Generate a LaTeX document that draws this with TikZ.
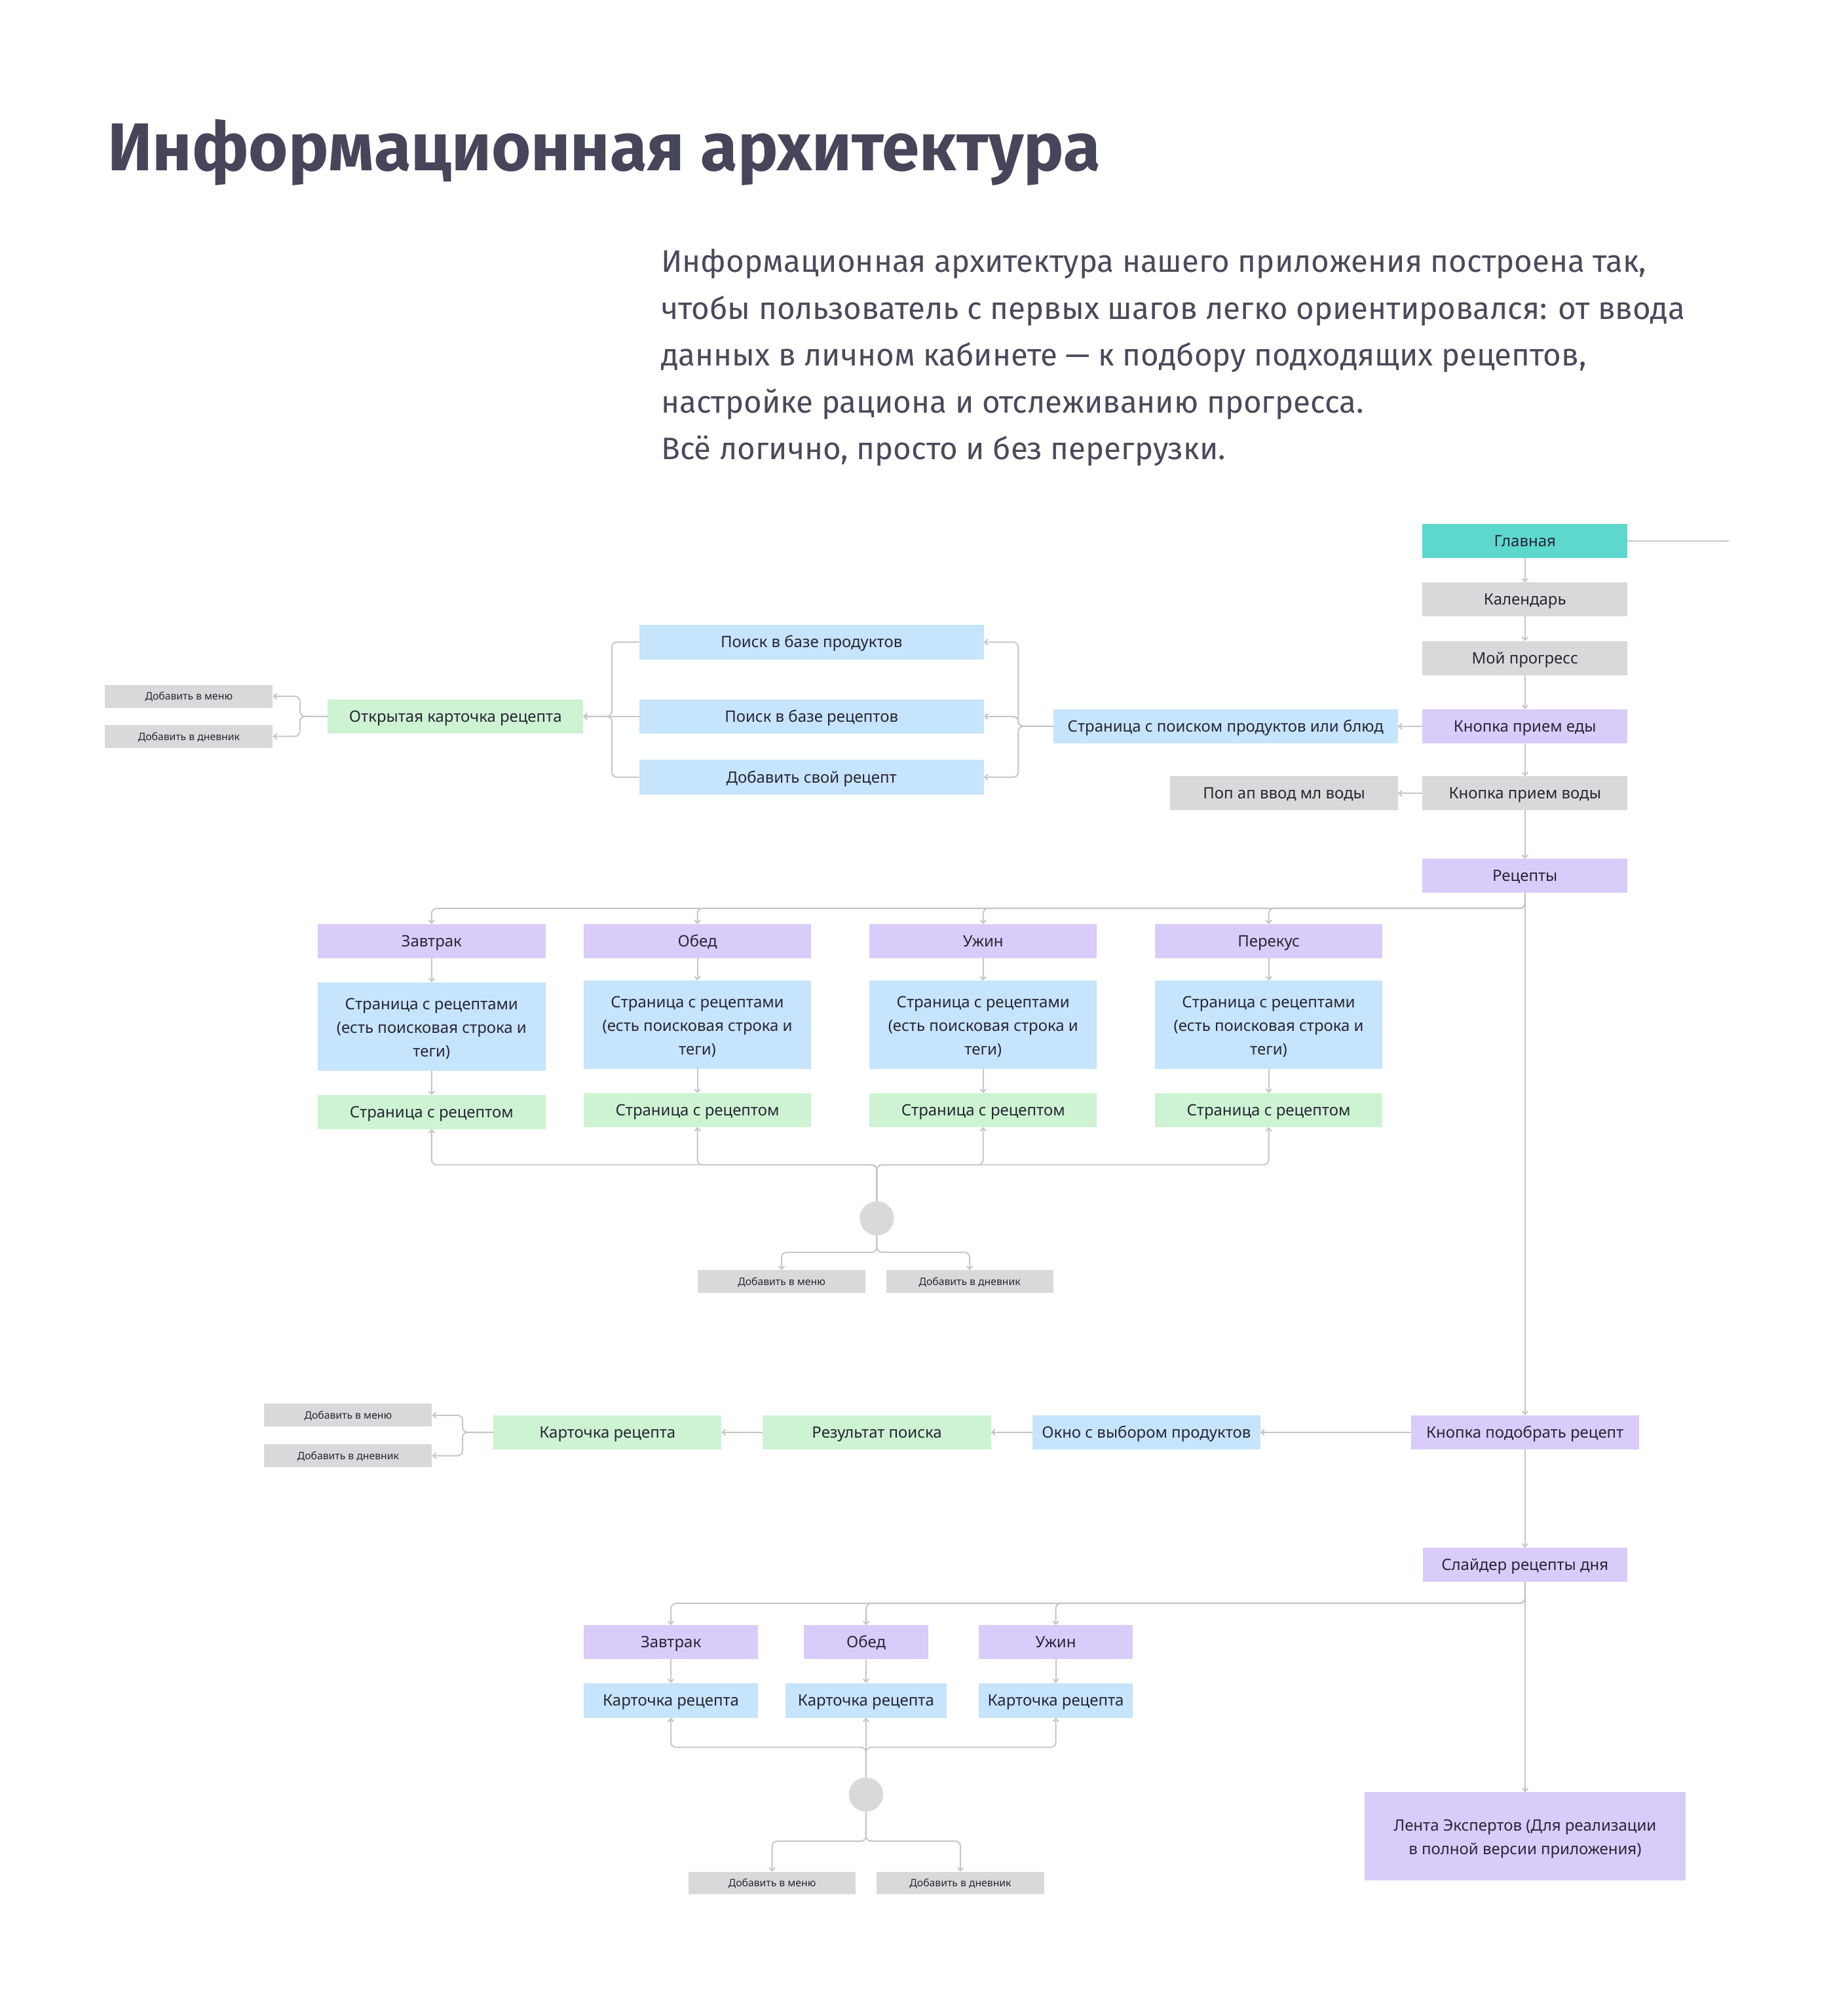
\documentclass[tikz,border=0pt]{standalone}
\usepackage{fontspec}
\setmainfont{Noto Sans}
\newfontfamily\titlefont{Fira Sans}
\usetikzlibrary{arrows.meta}
\definecolor{tealbox}{HTML}{5ED8CC}
\definecolor{graybox}{HTML}{D9D9D9}
\definecolor{purplebox}{HTML}{D9CCFB}
\definecolor{bluebox}{HTML}{C6E4FB}
\definecolor{greenbox}{HTML}{CDF3D3}
\definecolor{linec}{HTML}{C6C6C6}
\definecolor{txt}{HTML}{282634}
\definecolor{titc}{HTML}{47455A}
\definecolor{parc}{HTML}{4B495B}
\AtBeginDocument{%
  \setbox0=\hbox{\normalfont\fontsize{10}{12}\selectfont Страница с поиском продуктов или блюд}%
  \pgfmathsetmacro\tmpa{10*245.6/\the\wd0}\xdef\lsz{\tmpa}%
  \pgfmathsetmacro\tmpa{0.714*\lsz}\xdef\lcap{\tmpa}%
  \setbox0=\hbox{\normalfont\fontsize{10}{12}\selectfont Добавить в дневник}%
  \pgfmathsetmacro\tmpa{10*79/\the\wd0}\xdef\ssz{\tmpa}%
  \pgfmathsetmacro\tmpa{0.714*\ssz}\xdef\scap{\tmpa}%
  \setbox0=\hbox{\titlefont\bfseries\fontsize{10}{12}\selectfont Информационная архитектура}%
  \pgfmathsetmacro\tmpa{10*772/\the\wd0}\xdef\tsz{\tmpa}%
  \setbox0=\hbox{\titlefont\fontsize{10}{12}\selectfont чтобы пользователь с первых шагов легко ориентировался: от ввода}%
  \pgfmathsetmacro\tmpa{10*796/\the\wd0}\xdef\psz{\tmpa}%
}
\def\lblf{\fontsize{\lsz}{18.4}\selectfont}
\def\smf{\fontsize{\ssz}{10}\selectfont}
\def\titf{\titlefont\bfseries\fontsize{\tsz}{\tsz}\selectfont}
\def\parf{\titlefont\fontsize{\psz}{36.4}\selectfont}
\def\fst{\rule{0pt}{12.4pt}}
\tikzset{
  box/.style={rectangle, inner sep=0pt, outer sep=0pt, text=txt, font=\lblf,
    minimum height=26.5, text height=\lcap pt, text depth=0pt},
  mbox/.style={rectangle, inner sep=0pt, outer sep=0pt, text=txt, font=\lblf, align=center},
  sbox/.style={rectangle, inner sep=0pt, outer sep=0pt, fill=graybox, text=txt, font=\smf,
    minimum width=130.5, minimum height=17.8, text height=\scap pt, text depth=0pt},
  arr/.style={draw=linec, line width=1pt, -{Straight Barb[length=2.4pt,width=4.4pt]}},
  ln/.style={draw=linec, line width=1pt},
  bus/.style={rounded corners=4pt},
  dot/.style={circle, fill=graybox, inner sep=0pt, minimum size=26.6},
  partext/.style={anchor=base west, inner sep=0pt, font=\parf, text=parc},
}
\begin{document}
\begin{tikzpicture}[x=1pt,y=-1pt]
\useasboundingbox (0,0) rectangle (1426.4,1568);
\fill[white] (0,0) rectangle (1426.4,1568);

% title and text
\node[anchor=base west, inner sep=0pt, font=\titf, text=titc] (title) at (83.5,132.6) {Информационная архитектура};
\node[partext] (p1) at (514,211.8) {Информационная архитектура нашего приложения построена так,};
\node[partext] (p2) at (514,248.2) {чтобы пользователь с первых шагов легко ориентировался: от ввода};
\node[partext] (p3) at (514,284.6) {данных в личном кабинете — к подбору подходящих рецептов,};
\node[partext] (p4) at (514,321.0) {настройке рациона и отслеживанию прогресса.};
\node[partext] (p5) at (514,357.4) {Всё логично, просто и без перегрузки.};

% right column
\node[box, fill=tealbox, minimum width=159.5] (glav) at (1185.8,420.8) {Главная};
\node[box, fill=graybox, minimum width=159.5] (kal) at (1185.8,466.3) {Календарь};
\node[box, fill=graybox, minimum width=159.5] (prog) at (1185.8,511.8) {Мой прогресс};
\node[box, fill=purplebox, minimum width=159.5] (eda) at (1185.8,564.9) {Кнопка прием еды};
\node[box, fill=graybox, minimum width=159.5] (voda) at (1185.8,617.0) {Кнопка прием воды};
\node[box, fill=purplebox, minimum width=159.5] (rec) at (1185.8,681.3) {Рецепты};
\node[box, fill=purplebox, minimum width=177.5] (podob) at (1185.8,1114) {Кнопка подобрать рецепт};
\node[box, fill=purplebox, minimum width=159] (slider) at (1185.8,1217) {Слайдер рецепты дня};
\node[mbox, fill=purplebox, minimum width=249.8, minimum height=68.7] (lenta) at (1185.9,1428.3) {\fst Лента Экспертов (Для реализации\\в полной версии приложения)};
\coordinate (glavend) at (1344.5,420.8);

\node[box, fill=bluebox, minimum width=268] (ps) at (953,564.9) {Страница с поиском продуктов или блюд};
\node[box, fill=graybox, minimum width=177] (popap) at (998.5,617.0) {Поп ап ввод мл воды};

% search group
\node[box, fill=bluebox, minimum width=268, minimum height=26.8] (pprod) at (631,499.4) {Поиск в базе продуктов};
\node[box, fill=bluebox, minimum width=268] (prec) at (631,557.2) {Поиск в базе рецептов};
\node[box, fill=bluebox, minimum width=268, minimum height=27] (padd) at (631,604.5) {Добавить свой рецепт};
\node[box, fill=greenbox, minimum width=198.5] (otkr) at (354.2,557.2) {Открытая карточка рецепта};
\node[sbox] (dm1) at (146.9,541.6) {Добавить в меню};
\node[sbox] (dd1) at (146.9,572.8) {Добавить в дневник};
\coordinate (rbus) at (791.8,564.9);

% meal columns
\node[box, fill=purplebox, minimum width=177.3] (h1) at (335.6,732) {Завтрак};
\node[box, fill=purplebox, minimum width=176.6] (h2) at (542.3,732) {Обед};
\node[box, fill=purplebox, minimum width=177] (h3) at (764.5,732) {Ужин};
\node[box, fill=purplebox, minimum width=177] (h4) at (986.5,732) {Перекус};
\node[mbox, fill=bluebox, minimum width=177.3, minimum height=68.7] (s1) at (335.6,798.3) {\fst Страница с рецептами\\(есть поисковая строка и\\теги)};
\node[mbox, fill=bluebox, minimum width=176.6, minimum height=68.6] (s2) at (542.3,796.9) {\fst Страница с рецептами\\(есть поисковая строка и\\теги)};
\node[mbox, fill=bluebox, minimum width=177, minimum height=68.6] (s3) at (764.5,796.9) {\fst Страница с рецептами\\(есть поисковая строка и\\теги)};
\node[mbox, fill=bluebox, minimum width=177, minimum height=68.6] (s4) at (986.5,796.9) {\fst Страница с рецептами\\(есть поисковая строка и\\теги)};
\node[box, fill=greenbox, minimum width=177.3] (r1) at (335.6,864.9) {Страница с рецептом};
\node[box, fill=greenbox, minimum width=176.6] (r2) at (542.3,863.4) {Страница с рецептом};
\node[box, fill=greenbox, minimum width=177] (r3) at (764.5,863.4) {Страница с рецептом};
\node[box, fill=greenbox, minimum width=177] (r4) at (986.5,863.4) {Страница с рецептом};
\node[dot] (c1) at (681.8,947.6) {};
\node[sbox, minimum width=130.4, minimum height=18] (dm2) at (607.8,996.8) {Добавить в меню};
\node[sbox, minimum width=130, minimum height=18] (dd2) at (754.0,996.8) {Добавить в дневник};

% middle row
\node[box, fill=bluebox, minimum width=177.3] (okno) at (891.4,1114) {Окно с выбором продуктов};
\node[box, fill=greenbox, minimum width=177.4] (res) at (681.9,1114) {Результат поиска};
\node[box, fill=greenbox, minimum width=177.2] (kart) at (472.4,1114) {Карточка рецепта};
\node[sbox] (dm3) at (270.7,1100.8) {Добавить в меню};
\node[sbox] (dd3) at (270.7,1132.2) {Добавить в дневник};

% bottom section
\node[box, fill=purplebox, minimum width=135.8] (b1) at (521.7,1277.3) {Завтрак};
\node[box, fill=purplebox, minimum width=96.9] (b2) at (673.5,1277.3) {Обед};
\node[box, fill=purplebox, minimum width=120] (b3) at (821,1277.3) {Ужин};
\node[box, fill=bluebox, minimum width=135.8, minimum height=27] (k1) at (521.7,1322.5) {Карточка рецепта};
\node[box, fill=bluebox, minimum width=125.2, minimum height=27] (k2) at (673.4,1322.5) {Карточка рецепта};
\node[box, fill=bluebox, minimum width=120, minimum height=27] (k3) at (821,1322.5) {Карточка рецепта};
\node[dot] (c2) at (673.4,1395.7) {};
\node[sbox, minimum width=130, minimum height=17.4] (dm4) at (600.4,1464.4) {Добавить в меню};
\node[sbox, minimum width=130, minimum height=17.4] (dd4) at (746.8,1464.4) {Добавить в дневник};

% ---- connectors ----
\draw[ln] (glav.east) -- (glavend);
\draw[arr] (glav) -- (kal);
\draw[arr] (kal) -- (prog);
\draw[arr] (prog) -- (eda);
\draw[arr] (eda) -- (voda);
\draw[arr] (voda) -- (rec);
\draw[arr] (eda) -- (ps);
\draw[arr] (voda) -- (popap);
\draw[arr] (rec.south) -- (podob.north);
\draw[arr] (podob) -- (slider);
\draw[arr] (slider.south) -- (lenta.north);

% search group
\draw[arr,bus] (ps.west) -- (rbus) |- (pprod.east);
\draw[arr,bus] (ps.west) -- (rbus) |- (prec.east);
\draw[arr,bus] (ps.west) -- (rbus) |- (padd.east);
\draw[arr,bus] (pprod.west) -- (475.8,499.4) |- (otkr.east);
\draw[arr,bus] (padd.west) -- (475.8,604.5) |- (otkr.east);
\draw[arr] (prec.west) -- (otkr.east);
\draw[arr,bus] (otkr.west) -- (233.2,557.2) |- (dm1.east);
\draw[arr,bus] (otkr.west) -- (233.2,557.2) |- (dd1.east);

% meal columns
\foreach \c/\x in {h1/335.6,h2/542.3,h3/764.5,h4/986.5}
  \draw[arr,bus] (rec.south) |- (\x,706.5) -- (\c.north);
\foreach \i in {1,2,3,4} {
  \draw[arr] (h\i) -- (s\i);
  \draw[arr] (s\i) -- (r\i);
}
\foreach \c/\x in {r1/335.6,r2/542.3,r3/764.5,r4/986.5}
  \draw[arr,bus] (c1.north) |- (\x,906) -- (\c.south);
\draw[arr,bus] (c1.south) |- (607.8,974) -- (dm2.north);
\draw[arr,bus] (c1.south) |- (754.0,974) -- (dd2.north);

% middle row
\draw[arr] (podob.west) -- (okno.east);
\draw[arr] (okno.west) -- (res.east);
\draw[arr] (res.west) -- (kart.east);
\draw[arr,bus] (kart.west) -- (359.7,1114) |- (dm3.east);
\draw[arr,bus] (kart.west) -- (359.7,1114) |- (dd3.east);

% bottom section
\draw[arr,bus] (slider.south) |- (521.7,1247) -- (b1.north);
\draw[arr,bus] (slider.south) |- (673.5,1247) -- (b2.north);
\draw[arr,bus] (slider.south) |- (821,1247) -- (b3.north);
\draw[arr] (b1) -- (k1);
\draw[arr] (b2) -- (k2);
\draw[arr] (b3) -- (k3);
\draw[arr,bus] (c2.north) |- (521.7,1359) -- (k1.south);
\draw[arr] (c2.north) -- (k2.south);
\draw[arr,bus] (c2.north) |- (821,1359) -- (k3.south);
\draw[arr,bus] (c2.south) |- (600.4,1432) -- (dm4.north);
\draw[arr,bus] (c2.south) |- (746.8,1432) -- (dd4.north);
\end{tikzpicture}
\end{document}
